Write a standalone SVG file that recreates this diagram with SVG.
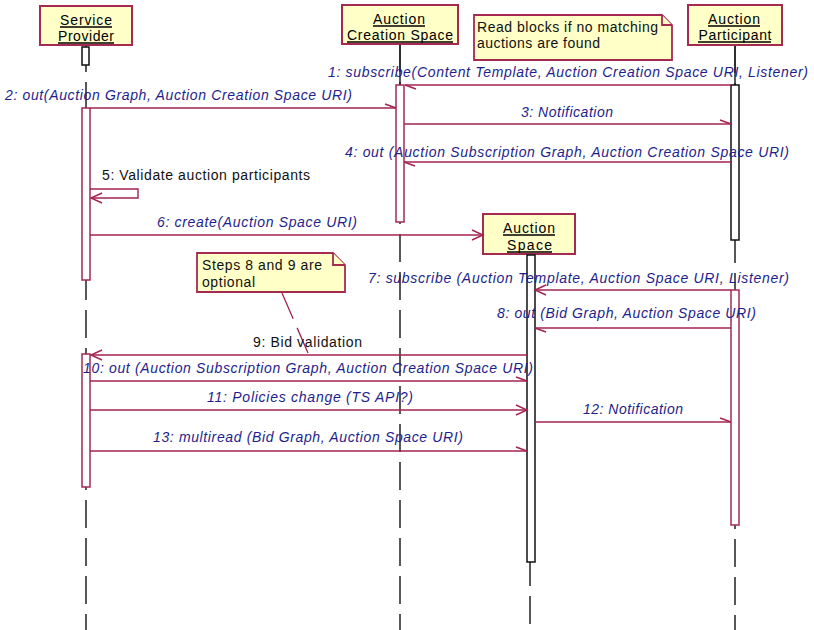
<svg xmlns="http://www.w3.org/2000/svg" width="814" height="630" viewBox="0 0 814 630">
  <style>
    .obj { fill: #ffffc8; stroke: #a52a52; stroke-width: 2; }
    .hdr { font-family: "Liberation Sans", Arial, sans-serif; font-size: 14px; fill: #000; text-anchor: middle; }
    .uline { stroke: #000; stroke-width: 1.3; }
    .life { stroke: #222; stroke-width: 1.5; stroke-dasharray: 28 10; fill: none; }
    .solid { stroke: #222; stroke-width: 1.5; fill: none; }
    .actR { fill: #fff; stroke: #a52a52; stroke-width: 1.5; }
    .actK { fill: #fff; stroke: #111; stroke-width: 1.5; }
    .msg { stroke: #a52350; stroke-width: 1.4; fill: none; }
    .lbl { font-family: "Liberation Sans", Arial, sans-serif; font-size: 14px; font-style: italic; fill: #1e1e8c; }
    .lblk { font-family: "Liberation Sans", Arial, sans-serif; font-size: 14px; fill: #111; }
    .note { fill: #ffffc8; stroke: #a52a52; stroke-width: 1.8; }
    .anchor { stroke: #a52350; stroke-width: 1.3; stroke-dasharray: 28 10; fill: none; }
  </style>
  <defs>
    <marker id="half" viewBox="-12 -7 14 14" refX="0" refY="0" markerWidth="14" markerHeight="14" markerUnits="userSpaceOnUse" orient="auto">
      <path d="M-11,-4 L0,0" stroke="#a52350" stroke-width="1.4" fill="none"/>
    </marker>
    <marker id="open" viewBox="-12 -7 14 14" refX="0" refY="0" markerWidth="14" markerHeight="14" markerUnits="userSpaceOnUse" orient="auto">
      <path d="M-11,-5 L0,0 L-11,5" stroke="#a52350" stroke-width="1.4" fill="none"/>
    </marker>
  </defs>
  <rect width="814" height="630" fill="#fff"/>

  <!-- lifelines -->
  <g id="lifelines">
    <line class="life" x1="86" y1="44" x2="86" y2="630"/>
    <line class="life" x1="400" y1="44" x2="400" y2="630"/>
    <line class="solid" x1="400" y1="44" x2="400" y2="85"/>
    <line class="life" x1="735" y1="45" x2="735" y2="630"/>
    <line class="solid" x1="735" y1="45" x2="735" y2="85"/>
    <line class="life" x1="530" y1="254" x2="530" y2="630"/>
  </g>

  <!-- Service Provider -->
  <g id="service-provider">
    <rect class="obj" x="40" y="6" width="92" height="39"/>
    <text class="hdr" x="86" y="25" textLength="52" lengthAdjust="spacing">Service</text>
    <line class="uline" x1="60" y1="27" x2="112" y2="27"/>
    <text class="hdr" x="86" y="41" textLength="56" lengthAdjust="spacing">Provider</text>
    <line class="uline" x1="58" y1="43" x2="114" y2="43"/>
    <rect class="actK" x="82" y="47" width="7" height="18"/>
    <rect class="actR" x="82" y="108" width="8" height="172"/>
    <rect class="actR" x="82" y="354" width="8" height="133"/>
  </g>

  <!-- Auction Creation Space -->
  <g id="auction-creation-space">
    <rect class="obj" x="342" y="5" width="116" height="39"/>
    <text class="hdr" x="399" y="24" textLength="52" lengthAdjust="spacing">Auction</text>
    <line class="uline" x1="373" y1="26" x2="425" y2="26"/>
    <text class="hdr" x="400" y="40" textLength="106" lengthAdjust="spacing">Creation Space</text>
    <line class="uline" x1="347" y1="42" x2="453" y2="42"/>
    <rect class="actR" x="396" y="85" width="8" height="137"/>
  </g>

  <!-- Note: read blocks -->
  <g id="note-read-blocks">
    <path class="note" d="M474,15 H662 L672,25 V60 H474 Z"/>
    <path class="note" d="M662,15 V25 H672" fill="none"/>
    <text class="lblk" x="477" y="32" textLength="181" lengthAdjust="spacing">Read blocks if no matching</text>
    <text class="lblk" x="477" y="48" textLength="123" lengthAdjust="spacing">auctions are found</text>
  </g>

  <!-- Auction Participant -->
  <g id="auction-participant">
    <rect class="obj" x="688" y="5" width="94" height="40"/>
    <text class="hdr" x="734" y="24" textLength="52" lengthAdjust="spacing">Auction</text>
    <line class="uline" x1="708" y1="26" x2="760" y2="26"/>
    <text class="hdr" x="735" y="40" textLength="73" lengthAdjust="spacing">Participant</text>
    <line class="uline" x1="698" y1="42" x2="771" y2="42"/>
    <rect class="actK" x="731" y="85" width="8" height="155"/>
    <rect class="actR" x="731" y="290" width="8" height="235"/>
  </g>

  <!-- Auction Space -->
  <g id="auction-space">
    <rect class="obj" x="483" y="214" width="92" height="40"/>
    <text class="hdr" x="529" y="233" textLength="52" lengthAdjust="spacing">Auction</text>
    <line class="uline" x1="503" y1="235" x2="555" y2="235"/>
    <text class="hdr" x="529.5" y="250" textLength="45" lengthAdjust="spacing">Space</text>
    <line class="uline" x1="507" y1="252" x2="552" y2="252"/>
    <rect class="actK" x="527" y="255" width="8" height="307"/>
  </g>

  <!-- Note: optional steps -->
  <g id="note-optional">
    <path class="note" d="M197,253 H333 L345,265 V292 H197 Z"/>
    <path class="note" d="M333,253 V265 H345" fill="none"/>
    <text class="lblk" x="202" y="270" textLength="120" lengthAdjust="spacing">Steps 8 and 9 are</text>
    <text class="lblk" x="202" y="287" textLength="53" lengthAdjust="spacing">optional</text>
  </g>

  <!-- messages -->
  <g id="connectors">
    <line class="anchor" x1="282" y1="293" x2="308" y2="353"/>

    <line class="msg" x1="731" y1="85" x2="405" y2="85" marker-end="url(#half)"/>
    <text class="lbl" x="328" y="77" textLength="480" lengthAdjust="spacing">1: subscribe(Content Template, Auction Creation Space URI, Listener)</text>

    <line class="msg" x1="90" y1="108" x2="396" y2="108" marker-end="url(#half)"/>
    <text class="lbl" x="5" y="100" textLength="347" lengthAdjust="spacing">2: out(Auction Graph, Auction Creation Space URI)</text>

    <line class="msg" x1="404" y1="124" x2="731" y2="124" marker-end="url(#half)"/>
    <text class="lbl" x="521" y="117" textLength="92" lengthAdjust="spacing">3: Notification</text>

    <line class="msg" x1="731" y1="162" x2="404" y2="162" marker-end="url(#half)"/>
    <text class="lbl" x="345" y="157" textLength="444" lengthAdjust="spacing">4: out (Auction Subscription Graph, Auction Creation Space URI)</text>

    <path class="msg" d="M90,189 H138 V198 H91" marker-end="url(#open)"/>
    <text class="lblk" x="102" y="180" textLength="208" lengthAdjust="spacing">5: Validate auction participants</text>

    <line class="msg" x1="90" y1="235" x2="483" y2="235" marker-end="url(#open)"/>
    <text class="lbl" x="157" y="227" textLength="200" lengthAdjust="spacing">6: create(Auction Space URI)</text>

    <line class="msg" x1="731" y1="290" x2="535" y2="290" marker-end="url(#open)"/>
    <text class="lbl" x="368" y="283" textLength="421" lengthAdjust="spacing">7: subscribe (Auction Template, Auction Space URI, Listener)</text>

    <line class="msg" x1="731" y1="328" x2="535" y2="328" marker-end="url(#half)"/>
    <text class="lbl" x="497" y="318" textLength="259" lengthAdjust="spacing">8: out (Bid Graph, Auction Space URI)</text>

    <line class="msg" x1="527" y1="355" x2="91" y2="355" marker-end="url(#open)"/>
    <text class="lblk" x="253" y="347" textLength="109" lengthAdjust="spacing">9: Bid validation</text>

    <line class="msg" x1="90" y1="381" x2="527" y2="381" marker-end="url(#half)"/>
    <text class="lbl" x="83" y="373" textLength="450" lengthAdjust="spacing">10: out (Auction Subscription Graph, Auction Creation Space URI)</text>

    <line class="msg" x1="90" y1="410" x2="527" y2="410" marker-end="url(#open)"/>
    <text class="lbl" x="207" y="402" textLength="206" lengthAdjust="spacing">11: Policies change (TS API?)</text>

    <line class="msg" x1="535" y1="422" x2="731" y2="422" marker-end="url(#half)"/>
    <text class="lbl" x="583" y="414" textLength="100" lengthAdjust="spacing">12: Notification</text>

    <line class="msg" x1="90" y1="451" x2="527" y2="451" marker-end="url(#half)"/>
    <text class="lbl" x="153" y="442" textLength="310" lengthAdjust="spacing">13: multiread (Bid Graph, Auction Space URI)</text>
  </g>
</svg>
